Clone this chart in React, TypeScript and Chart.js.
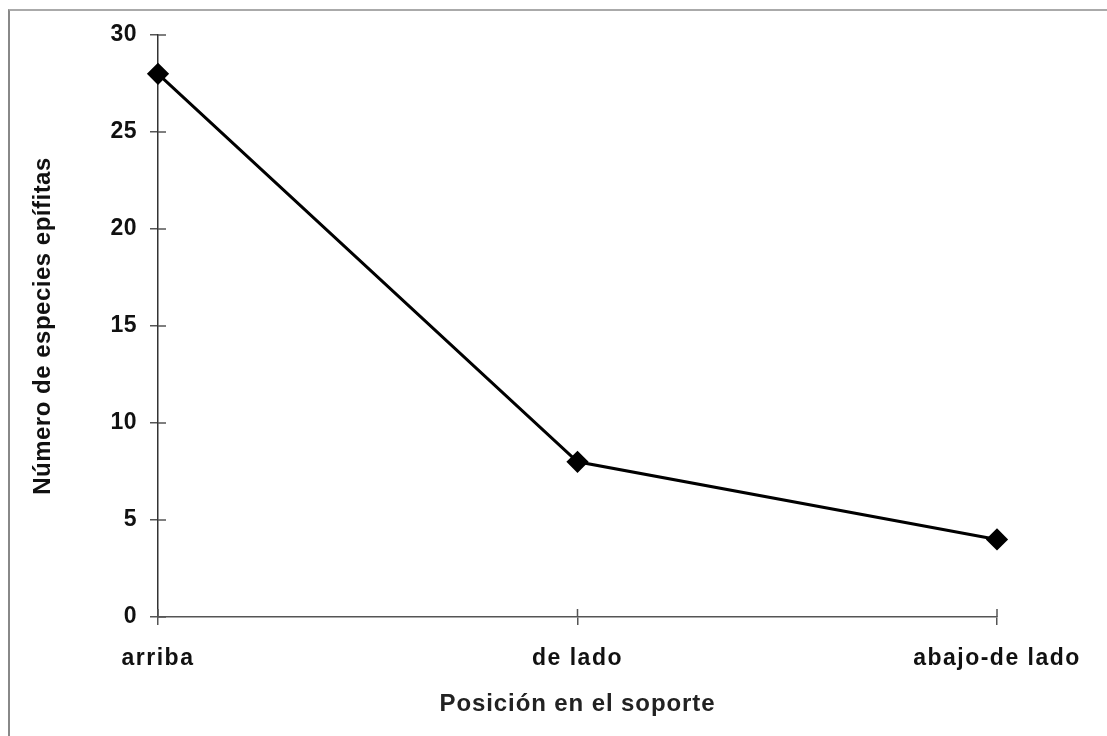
import React, { useEffect, useRef } from "react";
import { Chart, registerables } from "chart.js";

Chart.register(...registerables);

const categories = ["arriba", "de lado", "abajo-de lado"];
const speciesCount = [28, 8, 4];
const yTicks = [0, 5, 10, 15, 20, 25, 30];
const xTitle = "Posición en el soporte";
const yTitle = "Número de especies epífitas";

const FONT = "'Liberation Sans', Arial, sans-serif";
const AXIS = "#555";

const innerTicks = {
  id: "innerTicks",
  afterDraw(chart: any) {
    const { ctx, scales } = chart;
    const xs = scales.x;
    const ys = scales.y;
    ctx.save();
    ctx.strokeStyle = AXIS;
    ctx.lineWidth = 1.5;
    ctx.beginPath();
    ys.ticks.forEach((_: any, i: number) => {
      const p = ys.getPixelForTick(i);
      ctx.moveTo(ys.right, p);
      ctx.lineTo(ys.right + 8, p);
    });
    xs.ticks.forEach((_: any, i: number) => {
      const p = xs.getPixelForTick(i);
      ctx.moveTo(p, xs.top);
      ctx.lineTo(p, xs.top - 8);
    });
    ctx.stroke();
    ctx.restore();
  },
};

function spaced(s: any, labelSp: string, titleSp: string) {
  if (s._spacedPatched) return;
  s._spacedPatched = true;
  const proto = Object.getPrototypeOf(s);
  s.drawLabels = function (area: any) {
    const c = this.ctx;
    const prev = c.letterSpacing;
    c.letterSpacing = labelSp;
    proto.drawLabels.call(this, area);
    c.letterSpacing = prev;
  };
  s.drawTitle = function () {
    const c = this.ctx;
    const prev = c.letterSpacing;
    c.letterSpacing = titleSp;
    proto.drawTitle.call(this);
    c.letterSpacing = prev;
  };
}

export default function App() {
  const ref = useRef<HTMLCanvasElement | null>(null);

  useEffect(() => {
    if (!ref.current) return;
    const chart = new Chart(ref.current, {
      type: "line",
      data: {
        labels: categories,
        datasets: [
          {
            data: speciesCount,
            borderColor: "#000",
            backgroundColor: "#000",
            borderWidth: 3,
            pointStyle: "rectRot",
            pointRadius: 9,
            pointBackgroundColor: "#000",
            pointBorderColor: "#000",
            tension: 0,
          },
        ],
      },
      options: {
        responsive: false,
        animation: false,
        layout: { padding: { left: 0, right: 110, top: 35, bottom: 0 } },
        plugins: {
          legend: { display: false },
          tooltip: { enabled: false },
        },
        scales: {
          x: {
            type: "category",
            offset: false,
            afterFit: (s: any) => {
              s.height = 119;
              spaced(s, "1.5px", "0.9px");
            },
            border: { color: AXIS, width: 1.5 },
            grid: {
              drawOnChartArea: false,
              drawTicks: true,
              tickLength: 8,
              color: AXIS,
              lineWidth: 1.5,
            },
            ticks: {
              color: "#111",
              padding: 20,
              maxRotation: 0,
              font: { family: FONT, size: 23, weight: "bold" },
            },
            title: {
              display: true,
              text: xTitle,
              color: "#222",
              padding: { top: 0, bottom: 17 },
              font: { family: FONT, size: 24, weight: "bold" },
            },
          },
          y: {
            min: 0,
            max: 30,
            afterFit: (s: any) => {
              s.width = 158;
              spaced(s, "0.5px", "0.5px");
            },
            afterBuildTicks: (s: any) => {
              s.ticks = yTicks.map((v) => ({ value: v }));
            },
            border: { color: "#333", width: 1.5 },
            grid: {
              drawOnChartArea: false,
              drawTicks: true,
              tickLength: 8,
              color: AXIS,
              lineWidth: 1.5,
            },
            ticks: {
              color: "#111",
              padding: 13,
              font: { family: FONT, size: 23, weight: "bold" },
            },
            title: {
              display: true,
              text: yTitle,
              color: "#111",
              padding: { top: 29, bottom: 0 },
              font: { family: FONT, size: 24, weight: "bold" },
            },
          },
        },
      },
      plugins: [innerTicks],
    });
    return () => chart.destroy();
  }, []);

  return (
    <div
      style={{
        position: "fixed",
        left: 0,
        top: 0,
        width: 1107,
        height: 736,
        background: "#fff",
      }}
    >
      <div
        style={{
          position: "absolute",
          left: 8,
          top: 9,
          width: 1107,
          height: 736,
          borderLeft: "2px solid #888",
          borderTop: "2px solid #aaa",
        }}
      />
      <canvas
        ref={ref}
        width={1107}
        height={736}
        style={{ position: "absolute", left: 0, top: 0 }}
      />
    </div>
  );
}
